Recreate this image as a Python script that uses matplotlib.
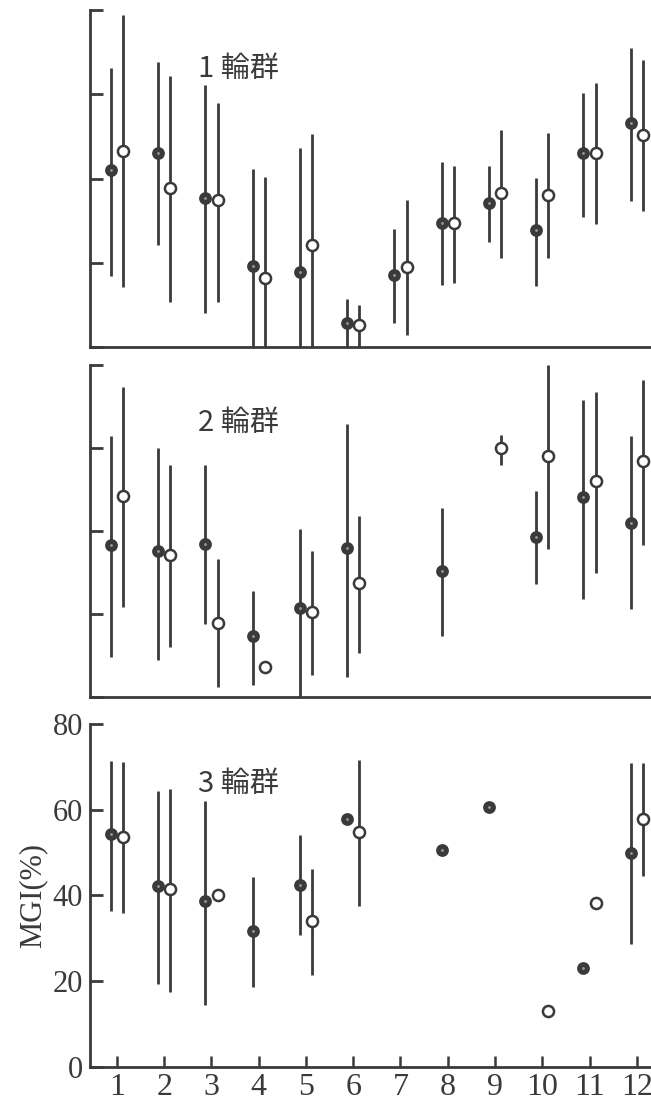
import numpy as np
import matplotlib.pyplot as plt

nan = np.nan
months = np.arange(1, 13)
month_labels = [str(m) for m in months]
panel_titles = ["1 輪群", "2 輪群", "3 輪群"]
y_ticks = [0, 20, 40, 60, 80]

# 1 輪群
g1_fill = [42.0, 46.1, 35.4, 19.3, 17.8, 5.7, 17.1, 29.5, 34.2, 27.8, 46.1, 53.2]
g1_fill_lo = [16.9, 24.2, 8.0, 0.0, 0.0, 0.0, 5.7, 14.7, 24.9, 14.5, 30.9, 34.7]
g1_fill_hi = [66.3, 67.7, 62.2, 42.3, 47.2, 11.4, 28.0, 43.9, 43.0, 40.1, 60.3, 71.0]
g1_open = [46.6, 37.8, 34.9, 16.4, 24.2, 5.2, 19.0, 29.5, 36.6, 36.1, 46.1, 50.4]
g1_open_lo = [14.2, 10.7, 10.7, 0.0, 0.0, 0.0, 2.9, 15.2, 21.1, 21.1, 29.2, 32.3]
g1_open_hi = [78.9, 64.4, 58.0, 40.4, 50.5, 10.0, 34.9, 43.0, 51.5, 50.8, 62.7, 68.2]

# 2 輪群
g2_fill = [36.6, 35.2, 37.0, 14.8, 21.4, 35.9, nan, 30.4, nan, 38.7, 48.2, 42.0]
g2_fill_lo = [9.6, 9.1, 17.6, 3.0, 0.0, 4.9, nan, 14.8, nan, 27.3, 23.6, 21.2]
g2_fill_hi = [62.8, 60.0, 56.0, 25.5, 40.6, 65.7, nan, 45.6, nan, 49.6, 71.6, 62.8]
g2_open = [48.4, 34.2, 17.9, 7.3, 20.5, 27.6, nan, nan, 60.0, 58.1, 52.1, 56.9]
g2_open_lo = [21.7, 12.0, 2.5, nan, 5.4, 10.6, nan, nan, 56.0, 35.6, 29.9, 36.6]
g2_open_hi = [74.6, 56.0, 33.3, nan, 35.2, 43.7, nan, nan, 63.1, 80.0, 73.5, 76.3]

# 3 輪群
g3_fill = [54.3, 42.2, 38.7, 31.7, 42.4, 57.8, nan, 50.6, 60.6, nan, 23.1, 49.9]
g3_fill_lo = [36.4, 19.3, 14.5, 18.6, 30.8, nan, nan, nan, nan, nan, nan, 28.7]
g3_fill_hi = [71.3, 64.3, 62.0, 44.3, 54.1, nan, nan, nan, nan, nan, nan, 70.9]
g3_open = [53.6, 41.5, 40.1, nan, 34.0, 54.8, nan, nan, nan, 13.1, 38.2, 57.8]
g3_open_lo = [35.9, 17.5, nan, nan, 21.4, 37.5, nan, nan, nan, nan, nan, 44.5]
g3_open_hi = [71.1, 64.8, nan, nan, 46.2, 71.6, nan, nan, nan, nan, nan, 70.9]

ink = "#3a3a3a"
serif = ["Liberation Serif", "DejaVu Serif"]
jp = ["Noto Sans CJK JP", "DejaVu Sans"]

fig = plt.figure(figsize=(6.51, 11.02), dpi=100)
# [left, bottom, width, height] in figure fraction
rects = [[0.1382, 0.6851, 0.8618, 0.3058],
         [0.1382, 0.3672, 0.8618, 0.3016],
         [0.1382, 0.0318, 0.8618, 0.3112]]
ylims = [(0, 80), (1.5, 80), (0, 80)]

panels = [
    (g1_fill, g1_fill_lo, g1_fill_hi, g1_open, g1_open_lo, g1_open_hi),
    (g2_fill, g2_fill_lo, g2_fill_hi, g2_open, g2_open_lo, g2_open_hi),
    (g3_fill, g3_fill_lo, g3_fill_hi, g3_open, g3_open_lo, g3_open_hi),
]

off = 0.13
for i, (data, rect) in enumerate(zip(panels, rects)):
    f, flo, fhi, o, olo, ohi = [np.array(d, dtype=float) for d in data]
    ax = fig.add_axes(rect)
    xf = months - off
    xo = months + off

    ax.vlines(xf, flo, fhi, color=ink, lw=2.0, zorder=2)
    ax.vlines(xo, olo, ohi, color=ink, lw=2.0, zorder=2)
    ax.plot(xf, f, "o", ms=8, mfc=ink, mec=ink, mew=1.2, ls="none", zorder=3)
    ax.plot(xf, f, "o", ms=2, mfc="#9a9a9a", mec="none", ls="none", zorder=4)
    ax.plot(xo, o, "o", ms=8, mfc="white", mec=ink, mew=1.8, ls="none", zorder=3)

    ax.set_xlim(0.43, 12.3)
    ax.set_ylim(*ylims[i])
    ax.set_yticks(y_ticks)
    ax.spines["top"].set_visible(False)
    ax.spines["right"].set_visible(False)
    for s in ("left", "bottom"):
        ax.spines[s].set_linewidth(2.0)
        ax.spines[s].set_color(ink)
    ax.tick_params(axis="y", direction="in", length=9, width=2.0, color=ink)
    ax.tick_params(axis="x", direction="in", length=8, width=1.8, color=ink)

    ax.text(2.72, 66, panel_titles[i], fontsize=21, family=jp, color=ink,
            ha="left", va="center")

    if i < 2:
        ax.set_xticks([])
        ax.set_yticklabels([])
    else:
        ax.set_xticks(months)
        ax.set_xticklabels(month_labels, family=serif, fontsize=23, color=ink)
        ax.set_yticklabels([str(t) for t in y_ticks], family=serif, fontsize=22, color=ink)
        ax.tick_params(axis="x", pad=4)
        ax.tick_params(axis="y", pad=5)
        ax.set_ylabel("MGI(%)", family=serif, fontsize=22, color=ink, labelpad=4)

fig.savefig("out.png", dpi=100, facecolor="white")
